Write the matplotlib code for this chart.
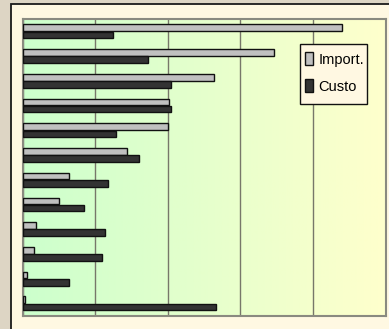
import numpy as np
import matplotlib.pyplot as plt
from matplotlib.patches import Patch, Rectangle
from matplotlib.colors import LinearSegmentedColormap

plt.rcParams['font.family'] = ['Liberation Sans', 'DejaVu Sans']

# importance vs cost per item, top to bottom
importancia = [4.40, 3.46, 2.64, 2.02, 2.00, 1.44, 0.64, 0.50, 0.19, 0.15, 0.06, 0.03]
custo = [1.25, 1.72, 2.04, 2.05, 1.29, 1.60, 1.17, 0.85, 1.14, 1.09, 0.64, 2.67]
x_ticks = [0, 1, 2, 3, 4, 5]

W, H = 389, 329
fig = plt.figure(figsize=(W / 100, H / 100), dpi=100, facecolor='#ddd5c4')

# cream panel behind the chart
fig.patches.append(Rectangle((11 / W, -0.1), 1.2, 1.1 - 4.5 / H,
                             transform=fig.transFigure, facecolor='#fff8e2',
                             edgecolor='#1a1a1a', linewidth=1.3, zorder=-5))

ax = fig.add_axes([22.7 / W, 13.3 / H, 362.8 / W, 296.7 / H])
ax.set_zorder(1)
ax.set_xlim(x_ticks[0], x_ticks[-1])
n = len(importancia)
ax.set_ylim(n - 0.5, -0.5)

# green-to-yellow horizontal gradient
grad = LinearSegmentedColormap.from_list('gy', ['#ccffcc', '#ffffcc'])
ax.imshow(np.linspace(0, 1, 256).reshape(1, -1), cmap=grad, aspect='auto',
          extent=[x_ticks[0], x_ticks[-1], n - 0.5, -0.5], zorder=0)

ax.set_xticks(x_ticks)
ax.grid(axis='x', color='#77776a', linewidth=1.0, zorder=1)
ax.set_yticks([])
ax.tick_params(axis='x', length=0, labelbottom=False)
for s in ax.spines.values():
    s.set_color('#8a8a80')
    s.set_linewidth(1.5)

y = np.arange(n)
h = 0.27
ax.barh(y - 0.145, importancia, height=h, color='#c0c0c0', edgecolor='#111111',
        linewidth=1.0, zorder=3)
ax.barh(y + 0.145, custo, height=h, color='#333333', edgecolor='#111111',
        linewidth=1.0, zorder=3)

# legend box drawn separately so its size can be fixed
box = Rectangle((300 / W, 1 - 104 / H), 67 / W, 60 / H, transform=fig.transFigure,
                facecolor='#fff8e2', edgecolor='#111111', linewidth=1.0,
                zorder=4, clip_on=False)
ax.add_patch(box)

handles = [Patch(facecolor='#c0c0c0', edgecolor='#111111', linewidth=1.0),
           Patch(facecolor='#333333', edgecolor='#111111', linewidth=1.0)]
leg = ax.legend(handles, ['Import.', 'Custo'], loc='center',
                bbox_to_anchor=(334.5 / W, 1 - 73 / H),
                bbox_transform=fig.transFigure, fontsize=10.5,
                frameon=False, borderaxespad=0, borderpad=0,
                handlelength=0.55, handleheight=1.0,
                handletextpad=0.4, labelspacing=0.84)
leg.set_zorder(5)

fig.savefig('out.png', dpi=100, facecolor=fig.get_facecolor())
